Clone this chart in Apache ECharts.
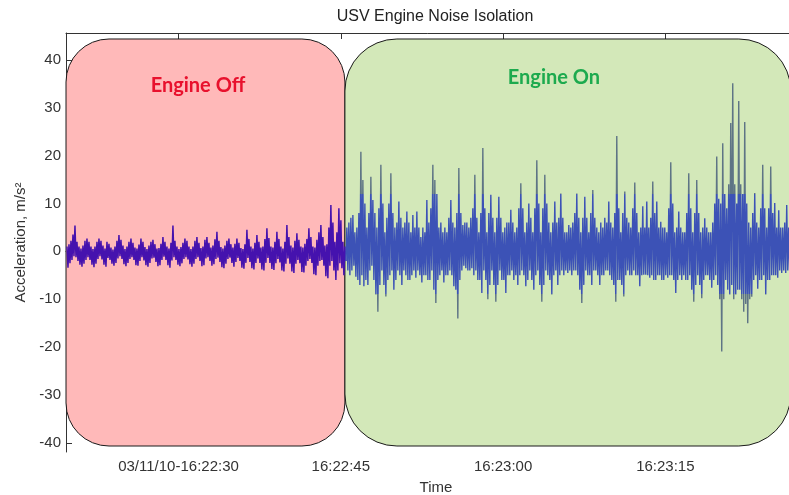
<!DOCTYPE html>
<html>
<head>
<meta charset="utf-8">
<script src="https://cdn.jsdelivr.net/npm/echarts@6/dist/echarts.min.js"></script>
<style>html,body{margin:0;padding:0;background:#fff;}#c{width:789px;height:495px;}</style>
</head>
<body>
<div id="c"></div>
<script>
// ---- data ----
const timeTicks = [30, 45, 60, 75];            // seconds after 16:22:00
const timeLabels = ['03/11/10-16:22:30', '16:22:45', '16:23:00', '16:23:15'];
const accelTicks = [-40, -30, -20, -10, 0, 10, 20, 30, 40];
const sampleStart = 19.69;   // s after 16:22:00
const sampleStep = 0.0924;   // s between samples (high / low alternate)

// upper and lower excursion of the trace, one pair per sample pair
const offHigh = [
 1.0, 1.5, 2.2, 3.5, 5.4, 2.0, 1.0, 0.6, 1.2, 2.2,
 2.7, 2.0, 1.0, 0.5, 1.0, 2.0, 2.7, 2.2, 1.2, 0.6,
 2.0, 1.6, 0.8, 0.4, 1.0, 2.2, 3.4, 2.4, 1.2, 0.5,
 1.0, 2.0, 2.7, 1.8, 0.8, 0.6, 1.4, 2.7, 2.0, 0.9,
 0.5, 1.2, 2.0, 2.4, 1.5, 0.6, 0.7, 1.6, 3.0, 2.0,
 1.0, 0.6, 1.8, 5.4, 2.2, 1.0, 0.5, 0.9, 1.8, 2.7,
 2.2, 1.0, 0.5, 1.0, 2.2, 3.0, 1.8, 0.7, 1.0, 2.4,
 3.0, 1.8, 0.8, 1.2, 2.5, 4.1, 2.2, 0.9, 0.6, 1.2,
 2.2, 2.7, 1.5, 0.8, 1.6, 2.7, 1.8, 0.7, 0.5, 1.5,
 4.5, 2.6, 1.0, 0.6, 1.8, 3.4, 2.0, 0.8, 1.0, 2.6,
 4.8, 2.8, 1.0, 0.8, 2.0, 4.1, 2.6, 1.0, 0.6, 2.0,
 5.5, 3.0, 1.2, 0.8, 2.2, 3.8, 2.4, 1.0, 0.8, 1.6,
 2.6, 4.8, 3.0, 1.0, 0.8, 2.4, 4.0, 5.5, 3.0, 1.2,
 1.5, 5.0, 9.7, 6.0, 2.0, 4.0, 9.0, 6.5, 2.0, 1.0
];
const offLow = [
 -3.4, -2.5, -1.8, -1.0, -1.2, -2.0, -2.8, -3.2, -2.6, -1.8,
 -1.2, -1.8, -2.8, -3.3, -2.6, -1.6, -1.0, -1.7, -2.8, -3.2,
 -1.4, -1.8, -2.6, -3.0, -2.4, -1.5, -1.0, -1.6, -2.7, -3.1,
 -2.4, -1.6, -1.2, -1.8, -2.9, -3.0, -2.0, -1.2, -1.9, -2.9,
 -3.2, -2.4, -1.5, -1.3, -2.2, -3.1, -2.9, -1.8, -1.1, -1.8,
 -2.9, -3.4, -1.9, -1.2, -1.8, -2.8, -3.1, -2.5, -1.6, -1.2,
 -1.7, -2.7, -3.2, -2.6, -1.6, -1.2, -2.0, -3.1, -2.9, -1.5,
 -1.2, -2.0, -3.0, -2.7, -1.6, -1.3, -2.2, -3.3, -3.5, -2.6,
 -1.6, -1.3, -2.4, -3.2, -2.2, -1.4, -2.0, -3.4, -3.6, -2.4,
 -1.4, -2.2, -3.5, -3.8, -2.4, -1.5, -2.4, -3.8, -4.0, -2.4,
 -1.4, -2.4, -3.7, -3.9, -2.5, -1.6, -2.3, -4.0, -4.2, -2.6,
 -1.5, -2.6, -4.2, -4.5, -2.6, -1.8, -2.5, -4.3, -4.4, -3.0,
 -2.0, -1.6, -2.4, -4.8, -5.0, -3.0, -2.0, -1.8, -3.0, -5.2,
 -5.6, -3.0, -2.0, -4.0, -6.0, -4.0, -2.5, -3.5, -5.0, -2.0
];

const onHigh = [
 5, 6, 7, 7.6, 4, 5, 8, 20.8, 14.9, 10,
 5, 8, 15.6, 10.7, 8, 5, 9, 18.1, 10, 4,
 7, 10, 16.3, 8, 5, 6, 10.4, 7, 5, 6,
 8.3, 6, 4, 7.6, 5, 8.3, 5, 3, 5, 4,
 10.7, 6, 9, 18.1, 14.9, 12, 5, 6, 4, 5,
 4, 7, 10.7, 6, 5, 8, 17.4, 8, 5.5, 6,
 6, 5, 7, 9, 16, 7, 4, 8, 21.6, 9,
 4, 8, 11.8, 7, 4, 7, 11.4, 7, 4, 5,
 6, 6, 8.7, 6, 4, 5, 9, 14.2, 9, 4,
 6, 10, 7, 4, 9, 19, 10, 4, 9, 16,
 10, 6, 4, 6, 10.4, 6, 7, 12.1, 7, 4,
 4, 5.5, 5, 6, 8, 12.1, 7, 4, 7, 11.4,
 7, 4, 8, 12.8, 7, 5, 4, 6, 5, 7,
 6, 10.4, 6, 5, 8, 24.1, 9, 4, 8, 12.5,
 7, 6, 5, 9, 14.4, 8, 4, 5, 9.4, 5,
 10.4, 5, 7, 14.6, 8, 10.4, 5, 6.2, 5, 5,
 4, 9, 18.6, 10, 4, 5, 8.3, 5, 4, 4,
 8, 16.3, 9, 4, 8, 14.9, 8, 4, 5, 6.9,
 5, 4, 4, 6, 10, 19.8, 11, 10, 22.6, 12,
 9, 14, 26.8, 35.1, 14, 10, 31.4, 14, 12, 27,
 10, 6, 5, 8, 12.2, 6, 5, 9, 18.1, 9,
 5, 9, 17.7, 8, 10.1, 5, 8.6, 5, 5, 6,
 9.7, 5, 6, 5, 4
];
const onLow = [
 -4, -5, -4, -3, -5.3, -6, -7, -5, -7.3, -6,
 -7, -4, -3, -6, -9, -12.6, -7, -4, -7, -9.4,
 -6, -5, -4, -8, -6, -4, -5, -7, -4, -5,
 -6, -6, -5, -4, -5.5, -4, -5, -6.5, -5, -5,
 -6, -6, -4, -8, -10.8, -6, -5, -4, -6.5, -5,
 -5, -4, -5, -7.3, -8, -14, -6, -4, -3, -3.5,
 -4, -4, -3.5, -5, -4, -6, -6, -8.7, -4, -6,
 -10, -7, -4, -7, -10.5, -7, -4, -6, -6, -8.7,
 -5, -5, -4, -6, -5, -7, -5, -4, -5, -7.3,
 -6, -4, -6, -8, -5, -4, -7, -10.5, -7, -4,
 -5, -6, -9, -5, -4, -7, -5, -4, -5, -4,
 -4.5, -4, -5, -4, -4, -5, -8, -10.8, -7, -4,
 -5, -5, -7, -4, -4, -5, -7, -5, -5, -4,
 -4, -5, -6, -7, -10.5, -6, -6, -7, -9.4, -5,
 -4, -5, -5, -4, -5, -5, -7.3, -5, -4.9, -4.9,
 -5, -5.5, -5, -6, -6, -5, -5, -6, -6, -5,
 -5.5, -5, -5, -6, -8.7, -6, -5, -6, -5, -6,
 -6, -5, -8, -10.5, -7, -5, -7, -9.8, -6, -5,
 -5, -6, -7.6, -6, -5, -7, -10, -20.9, -10, -6,
 -8, -9, -7, -10, -9, -8, -8, -10, -12.6, -11,
 -15, -10, -9.5, -6, -5, -7.8, -6, -6, -5, -9,
 -6, -6, -5, -5, -5, -5.5, -4, -4.5, -4, -4.5,
 -4, -4.2, -4, -4, -3
];

const regionNames = ['Engine Off', 'Engine On'];
const regionStart = [19.6, 45.38];
const regionEnd = [45.38, 86.6];
const regionTop = 44.35;
const regionBottom = -40.65;
const regionLabelTime = [31.8, 64.7];
const regionLabelValue = [34.7, 36.4];

// ---- build ----
function interleave(high, low, t0) {
  const out = [];
  for (let i = 0; i < high.length; i++) {
    out.push([t0 + (2 * i) * sampleStep, high[i]]);
    out.push([t0 + (2 * i + 1) * sampleStep, low[i]]);
  }
  return out;
}
const offData = interleave(offHigh, offLow, sampleStart);
const onStart = sampleStart + offData.length * sampleStep;
const onData = [offData[offData.length - 1]].concat(interleave(onHigh, onLow, onStart));

const regionFill = ['#FFB9B9', '#D3E8B9'];
const regionText = ['#E8112D', '#1DAA4E'];
const regionRadius = [43, 52];

const chart = echarts.init(document.getElementById('c'), null, {renderer: 'canvas'});
const axisColor = '#333';
const fontFam = 'Liberation Sans, Arial, sans-serif';
const labelFont = {fontFamily: fontFam, fontSize: 15, color: '#333'};

chart.setOption({
  animation: false,
  backgroundColor: '#fff',
  title: {
    text: 'USV Engine Noise Isolation',
    left: 430, top: 4, textAlign: 'center',
    textStyle: {fontFamily: fontFam, fontSize: 16, fontWeight: 'normal', color: '#222'}
  },
  grid: {left: 66, top: 33, width: 740, height: 419, containLabel: false, outerBoundsMode: 'none'},
  visualMap: {
    show: false, type: 'piecewise', seriesIndex: 2, dimension: 1,
    pieces: [
      {gt: 12, color: '#5E7485'},
      {gte: -9, lte: 12, color: '#3C52B6'},
      {lt: -9, color: '#5E7485'}
    ]
  },
  xAxis: [{
    type: 'value', min: 19.6, max: 88.0, position: 'bottom',
    name: 'Time', nameLocation: 'middle', nameGap: 28,
    nameTextStyle: {fontFamily: fontFam, fontSize: 15, color: '#333'},
    axisLine: {show: true, lineStyle: {color: axisColor, width: 1}},
    axisTick: {show: true, inside: true, length: 6, customValues: timeTicks, lineStyle: {color: axisColor}},
    axisLabel: Object.assign({show: true, margin: 7, customValues: timeTicks,
      formatter: v => { const k = timeTicks.findIndex(t => Math.abs(t - v) < 1e-6); return k >= 0 ? timeLabels[k] : ''; }}, labelFont),
    splitLine: {show: false}
  }, {
    type: 'value', min: 19.6, max: 88.0, position: 'top',
    axisLine: {show: true, lineStyle: {color: axisColor, width: 1}},
    axisTick: {show: true, inside: true, length: 6, customValues: timeTicks, lineStyle: {color: axisColor}},
    axisLabel: {show: false},
    splitLine: {show: false}
  }],
  yAxis: [{
    type: 'value', min: -41.9, max: 45.6,
    name: 'Acceleration, m/s\u00B2', nameLocation: 'middle', nameGap: 37,
    nameTextStyle: {fontFamily: fontFam, fontSize: 15, color: '#333'},
    axisLine: {show: true, lineStyle: {color: axisColor, width: 1}},
    axisTick: {show: true, inside: true, length: 6, customValues: accelTicks, lineStyle: {color: axisColor}},
    axisLabel: Object.assign({show: true, margin: 5, customValues: accelTicks}, labelFont),
    splitLine: {show: false}
  }],
  series: [{
    type: 'custom',
    z: 1,
    clip: false,
    silent: true,
    encode: {x: [0, 1, 4], y: [2, 3, 5]},
    data: regionNames.map((n, i) => [regionStart[i], regionEnd[i], regionBottom, regionTop, regionLabelTime[i], regionLabelValue[i]]),
    renderItem: function (params, api) {
      const i = params.dataIndex;
      const tl = api.coord([api.value(0), api.value(3)]);
      const br = api.coord([api.value(1), api.value(2)]);
      const lc = api.coord([api.value(4), api.value(5)]);
      return {
        type: 'group',
        children: [{
          type: 'rect',
          shape: {x: tl[0], y: tl[1], width: br[0] - tl[0], height: br[1] - tl[1], r: regionRadius[i]},
          style: {fill: regionFill[i], stroke: '#1a1a1a', lineWidth: 1}
        }, {
          type: 'text',
          x: lc[0], y: lc[1],
          style: {text: regionNames[i], fill: regionText[i], fontFamily: 'Lato, sans-serif', fontWeight: 'bold', fontSize: 20, align: 'center', verticalAlign: 'middle'}
        }]
      };
    }
  }, {
    type: 'line', z: 3, data: offData, showSymbol: false, symbol: 'none', sampling: 'none',
    lineStyle: {color: '#4512AE', width: 1.5}
  }, {
    type: 'line', z: 3, data: onData, showSymbol: false, symbol: 'none', sampling: 'none',
    lineStyle: {width: 1.4}
  }]
});
</script>
</body>
</html>
